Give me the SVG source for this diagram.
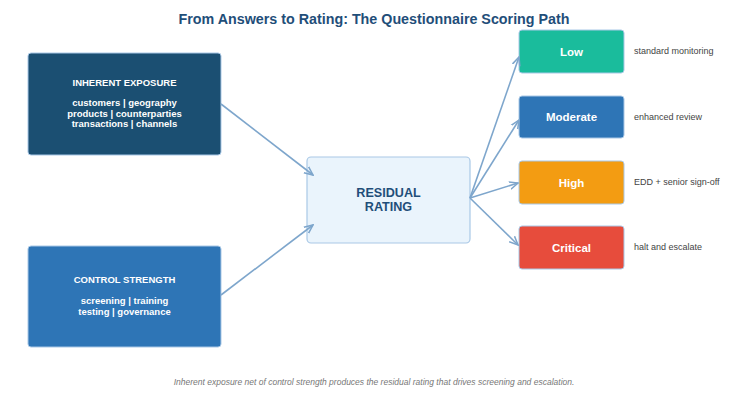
<svg xmlns="http://www.w3.org/2000/svg" width="748" height="400" viewBox="0 0 748 400">
<defs>
<style>
text{font-family:"Liberation Sans",Arial,sans-serif}
.title{font-size:14.3px;font-weight:bold;fill:#1f4e79}
.bt{font-size:9.5px;font-weight:bold;fill:#ffffff}
.rt{font-size:12.6px;font-weight:bold;fill:#1f4e79}
.lv{font-size:11.5px;font-weight:bold;fill:#ffffff}
.note{font-size:9px;fill:#444}
.foot{font-size:8.5px;font-style:italic;fill:#777}
.box{stroke:#a9c8e6;stroke-width:1}
.conn{stroke:#7ea6cc;stroke-width:1.6;fill:none;marker-end:url(#ah)}
</style>
<marker id="ah" viewBox="0 0 10 10" refX="9" refY="5" markerWidth="6" markerHeight="6" orient="auto"><path d="M0,1 L9,5 L0,9" fill="none" stroke="#7ea6cc" stroke-width="1.6"/></marker>
</defs>
<rect width="748" height="400" fill="#ffffff"/>
<text class="title" x="374" y="24" text-anchor="middle">From Answers to Rating: The Questionnaire Scoring Path</text>
<g id="inherent">
<rect class="box" x="28" y="53" width="193" height="102" rx="3" fill="#1b4f72"/>
<text class="bt" x="124.5" y="86" text-anchor="middle">INHERENT EXPOSURE</text>
<text class="bt" x="124.5" y="106" text-anchor="middle">customers | geography</text>
<text class="bt" x="124.5" y="116.5" text-anchor="middle">products | counterparties</text>
<text class="bt" x="124.5" y="127" text-anchor="middle">transactions | channels</text>
</g>
<g id="control">
<rect class="box" x="28" y="246" width="193" height="101" rx="3" fill="#2e75b6"/>
<text class="bt" x="124.5" y="283" text-anchor="middle">CONTROL STRENGTH</text>
<text class="bt" x="124.5" y="304" text-anchor="middle">screening | training</text>
<text class="bt" x="124.5" y="314.5" text-anchor="middle">testing | governance</text>
</g>
<g id="residual">
<rect x="307" y="157" width="163" height="86" rx="4" fill="#eaf4fc" stroke="#a9c8e6" stroke-width="1.2"/>
<text class="rt" x="388.5" y="196.5" text-anchor="middle">RESIDUAL</text>
<text class="rt" x="388.5" y="210.5" text-anchor="middle">RATING</text>
</g>
<g id="low">
<rect class="box" x="519" y="30" width="105" height="43" rx="3" fill="#1abc9c"/>
<text class="lv" x="571.5" y="56" text-anchor="middle">Low</text>
<text class="note" x="634" y="54">standard monitoring</text>
</g>
<g id="moderate">
<rect class="box" x="519" y="96" width="105" height="42" rx="3" fill="#2e75b6"/>
<text class="lv" x="571.5" y="121" text-anchor="middle">Moderate</text>
<text class="note" x="634" y="120">enhanced review</text>
</g>
<g id="high">
<rect class="box" x="519" y="161" width="105" height="43" rx="3" fill="#f39c12"/>
<text class="lv" x="571.5" y="186.5" text-anchor="middle">High</text>
<text class="note" x="634" y="185">EDD + senior sign-off</text>
</g>
<g id="critical">
<rect class="box" x="519" y="226" width="105" height="43" rx="3" fill="#e74c3c"/>
<text class="lv" x="571.5" y="251.5" text-anchor="middle">Critical</text>
<text class="note" x="634" y="250">halt and escalate</text>
</g>
<g id="connectors">
<line class="conn" x1="221" y1="104" x2="313" y2="175"/>
<line class="conn" x1="221" y1="295" x2="313" y2="225"/>
<line class="conn" x1="470" y1="198" x2="519" y2="57"/>
<line class="conn" x1="470" y1="198" x2="519" y2="120"/>
<line class="conn" x1="470" y1="198" x2="518" y2="183"/>
<line class="conn" x1="470" y1="198" x2="518" y2="245"/>
</g>
<text class="foot" x="374" y="385" text-anchor="middle">Inherent exposure net of control strength produces the residual rating that drives screening and escalation.</text>
</svg>
